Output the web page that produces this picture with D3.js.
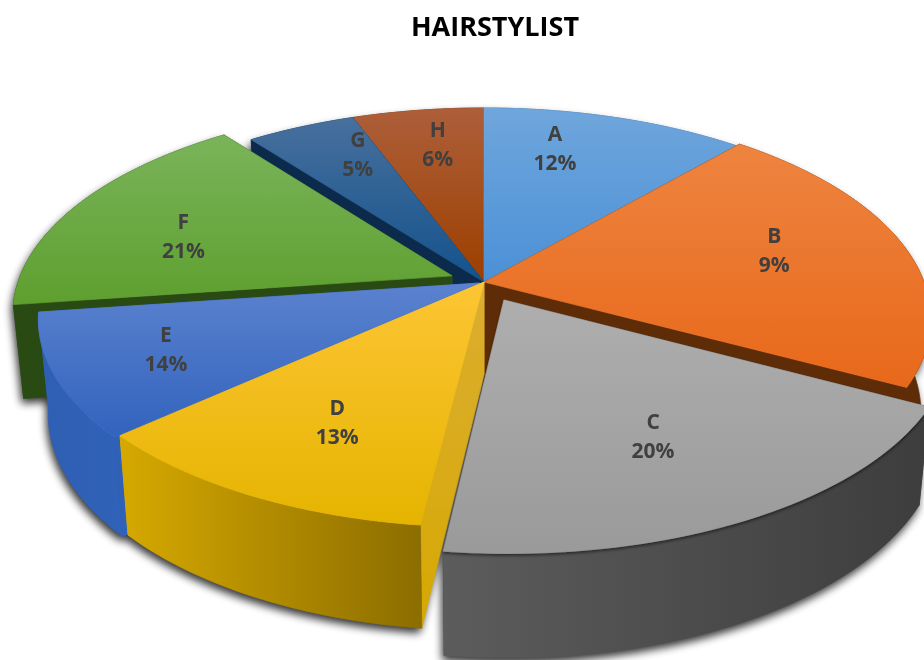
<!DOCTYPE html>
<html>
<head>
<meta charset="utf-8">
<script src="https://cdn.jsdelivr.net/npm/d3@7"></script>
<style>
  html, body { margin: 0; background: #fff; overflow: hidden; }
  text { font-family: "Open Sans", "Noto Sans", sans-serif; font-weight: 700; }
</style>
</head>
<body>
<div id="chart"></div>
<script>
// data
const title = "HAIRSTYLIST";
const categories = ["A", "B", "C", "D", "E", "F", "G", "H"];
const percents = [12, 9, 20, 13, 14, 21, 5, 6];
// the printed percents do not match the drawn slices, so the sweep is kept apart (degrees)
const sweeps = [41, 77, 69, 41, 34, 60.5, 17, 20.5];
const explode = [0, 0, 0.098, 0, 0.012, 0.08, 0, 0];
const radius = [1, 1.014, 1, 1, 1, 1, 1, 1];

// colours: top face light/dark, outer wall left/right, radial wall top/bottom
const topColors = [["#6fa6dc", "#4b90d6"], ["#ee8440", "#e8681a"], ["#aeaeae", "#9a9a9a"], ["#fdc534", "#e5b400"],
                   ["#5b82cf", "#3263bd"], ["#7ab45a", "#5e9f2f"], ["#47709d", "#14528c"], ["#ad5f3a", "#9c3f00"]];
const wallColors = [["#2a5f94", "#2a5f94"], ["#5e2d07", "#5e2d07"], ["#5c5c5c", "#3d3d3d"], ["#d6a900", "#8c6d00"],
                    ["#2f5fb3", "#2f62b8"], ["#2a4a14", "#2a4a14"], ["#0c2b4c", "#0c2b4c"], ["#5e2d07", "#5e2d07"]];
const sideColors = [["#5e2d07", "#5e2d07"], ["#5e2d07", "#5e2d07"], ["#444", "#444"], ["#dcae35", "#d6a800"],
                    ["#2f5fb3", "#2f62b8"], ["#2a4a14", "#2a4a14"], ["#0c2b4c", "#0c2b4c"], ["#5e2d07", "#5e2d07"]];

// where each label sits on the disc
const labelAngle = [14, 77, 153, 206, 245.5, 287, 335, 351];
const labelRadius = [0.76, 0.705, 0.66, 0.69, 0.75, 0.675, 0.77, 0.77];

const width = 924, height = 660;
const cx = 484, cy = 282;
const rx = 434, ry = 203.6, persp = 0.17;
const depth = 93;
const paintOrder = [7, 0, 6, 5, 1, 4, 3, 2];   // back to front

const svg = d3.select("#chart").append("svg")
  .attr("width", width)
  .attr("height", height);

const defs = svg.append("defs");

// filter region in page pixels, the slab nearly fills the page anyway
defs.append("filter")
  .attr("id", "shadow")
  .attr("filterUnits", "userSpaceOnUse")
  .attr("x", -40).attr("y", 60)
  .attr("width", 1010).attr("height", 640)
  .append("feGaussianBlur")
    .attr("stdDeviation", 4.5);

defs.append("filter")
  .attr("id", "edge")
  .attr("filterUnits", "userSpaceOnUse")
  .attr("x", 380).attr("y", 260)
  .attr("width", 600).attr("height", 340)
  .append("feDropShadow")
    .attr("dx", 0).attr("dy", 2)
    .attr("stdDeviation", 1.5)
    .attr("flood-color", "#000")
    .attr("flood-opacity", 0.5);

function gradient(id, pair, horizontal) {
  const g = defs.append("linearGradient")
    .attr("id", id)
    .attr("x1", 0).attr("y1", 0)
    .attr("x2", horizontal ? 1 : 0).attr("y2", horizontal ? 0 : 1);
  g.append("stop").attr("offset", "0%").attr("stop-color", pair[0]);
  g.append("stop").attr("offset", "100%").attr("stop-color", pair[1]);
}

categories.forEach((c, i) => {
  gradient("top" + c, topColors[i], false);
  gradient("wall" + c, wallColors[i], true);
  gradient("side" + c, sideColors[i], false);
});

// disc coordinates (u right, v toward the viewer) to screen, with perspective
function project(u, v) {
  const k = 1 / (1 - persp * v);
  return [cx + rx * u * k, cy + ry * v * k];
}

// same point on the lower face of the slab
function lower(p) {
  return [cx + (p[0] - cx) * 0.978, p[1] + depth + (p[1] - cy) * 0.042];
}

const pie = d3.pie().sort(null).value(d => d);
const arcs = pie(sweeps);

const toPath = d3.line();

function rimPoints(a, e, r) {
  const mid = (a.startAngle + a.endAngle) / 2;
  const ox = e * Math.sin(mid), oy = -e * Math.cos(mid);
  const steps = Math.max(12, Math.round((a.endAngle - a.startAngle) * 40));
  const t = d3.scaleLinear().domain([0, steps]).range([a.startAngle, a.endAngle]);
  return {
    tip: project(ox, oy),
    rim: d3.range(steps + 1).map(s => project(ox + r * Math.sin(t(s)), oy - r * Math.cos(t(s))))
  };
}

// shadow layer sits under all slices so it only lands on the white page
const shadowLayer = svg.append("g")
  .attr("filter", "url(#shadow)")
  .attr("fill", "#000")
  .attr("opacity", 0.8);
const sliceLayer = svg.append("g");

// a hairline stroke in the same paint closes the seams between neighbours
function face(g, d, paint) {
  return g.append("path")
    .attr("fill", paint)
    .attr("stroke", paint)
    .attr("stroke-width", 0.7)
    .attr("d", d);
}

paintOrder.forEach(i => {
  const c = categories[i];
  const { tip, rim } = rimPoints(arcs[i], explode[i], radius[i]);
  const first = rim[0], last = rim[rim.length - 1];
  const g = sliceLayer.append("g");

  // radial walls first, the outer wall and top then hide what faces away
  const sides = [first, last].map(end => toPath([tip, end, lower(end), lower(tip)]) + "Z");
  const outer = toPath(rim.concat(rim.map(lower).reverse())) + "Z";
  const top = toPath([tip].concat(rim)) + "Z";

  // only the lower rim throws a shadow: a copy of the wall pushed down a little
  shadowLayer.append("path")
    .attr("transform", "translate(-2,5)")
    .attr("d", outer);
  sides.forEach(d => shadowLayer.append("path").attr("transform", "translate(-2,5)").attr("d", d));

  sides.forEach(d => face(g, d, `url(#side${c})`));
  face(g, outer, `url(#wall${c})`);

  // the big exploded grey slice throws a thin edge on the gold wall next to it
  face(g, top, `url(#top${c})`).attr("filter", c === "C" ? "url(#edge)" : null);
});

// labels on top of everything
categories.forEach((c, i) => {
  const a = labelAngle[i] * Math.PI / 180;
  const mid = (arcs[i].startAngle + arcs[i].endAngle) / 2;
  const p = project(
    labelRadius[i] * Math.sin(a) + explode[i] * Math.sin(mid),
    -labelRadius[i] * Math.cos(a) - explode[i] * Math.cos(mid)
  );
  const label = svg.append("text")
    .attr("text-anchor", "middle")
    .attr("fill", "#404040")
    .style("font-size", "21px");
  label.append("tspan").attr("x", p[0]).attr("y", p[1] - 8).text(c);
  label.append("tspan").attr("x", p[0]).attr("y", p[1] + 21).text(percents[i] + "%");
});

svg.append("text")
  .attr("x", 495)
  .attr("y", 36)
  .attr("text-anchor", "middle")
  .attr("fill", "#000")
  .style("font-size", "27px")
  .text(title);
</script>
</body>
</html>
